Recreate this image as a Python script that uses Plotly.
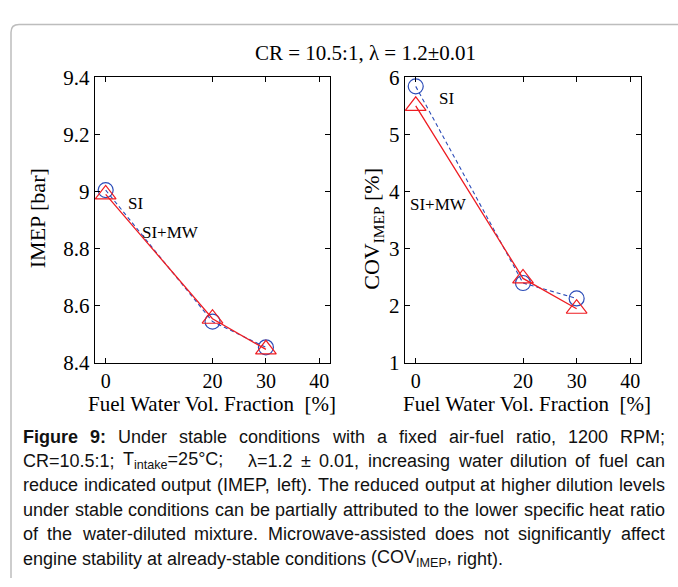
import plotly.graph_objects as go

# ---------------- data ----------------
water_frac = [0, 20, 30]
imep_si = [9.005, 8.545, 8.455]
imep_si_mw = [8.99, 8.555, 8.448]
cov_si = [5.84, 2.40, 2.13]
cov_si_mw = [5.50, 2.48, 1.95]

x_ticks = [0, 20, 30, 40]
imep_ticks = [8.4, 8.6, 8.8, 9.0, 9.2, 9.4]
imep_tick_text = ["8.4", "8.6", "8.8", "9", "9.2", "9.4"]
cov_ticks = [1, 2, 3, 4, 5, 6]

title_text = "CR = 10.5:1, λ = 1.2±0.01"
x_title = "Fuel Water Vol. Fraction\u00a0\u00a0[%]"
left_y_title = "IMEP [bar]"
right_y_title = "COV<sub>IMEP</sub> [%]"

caption_lines = [
    "<b>Figure</b> <b>9:</b> Under stable conditions with a fixed air-fuel ratio, 1200 RPM;",
    "CR=10.5:1; T<sub>intake</sub>=25°C;   λ=1.2 ± 0.01, increasing water dilution of fuel can",
    "reduce indicated output (IMEP, left). The reduced output at higher dilution levels",
    "under stable conditions can be partially attributed to the lower specific heat ratio",
    "of the water-diluted mixture. Microwave-assisted does not significantly affect",
    "engine stability at already-stable conditions (COV<sub>IMEP</sub>, right).",
]
caption_justify = [True, True, True, True, True, False]

W, H = 678, 587
BLUE = "#2b4cb8"
RED = "#ee1d23"
SERIF = "Liberation Serif"
SANS = "Liberation Sans"
CAP_SIZE = 18


def px(x):
    return x / W


def py(y):
    return 1 - y / H


# Arial / Liberation Sans advance widths (1/1000 em) for justification layout
REG = {' ': 278, '(': 333, ')': 333, ',': 278, '-': 333, '.': 278, ':': 278, ';': 278, '=': 584,
       '±': 584, '°': 400, 'λ': 500, '0': 556, '1': 556, '2': 556, '3': 556, '4': 556, '5': 556,
       '6': 556, '7': 556, '8': 556, '9': 556,
       'A': 667, 'B': 667, 'C': 722, 'D': 722, 'E': 667, 'F': 611, 'G': 778, 'H': 722, 'I': 278,
       'J': 500, 'K': 667, 'L': 556, 'M': 833, 'N': 722, 'O': 778, 'P': 667, 'Q': 778, 'R': 722,
       'S': 667, 'T': 611, 'U': 722, 'V': 667, 'W': 944, 'X': 667, 'Y': 667, 'Z': 611,
       'a': 556, 'b': 556, 'c': 500, 'd': 556, 'e': 556, 'f': 278, 'g': 556, 'h': 556, 'i': 222,
       'j': 222, 'k': 500, 'l': 222, 'm': 833, 'n': 556, 'o': 556, 'p': 556, 'q': 556, 'r': 333,
       's': 500, 't': 278, 'u': 556, 'v': 500, 'w': 722, 'x': 500, 'y': 500, 'z': 500}
BOLD = {'F': 611, 'i': 278, 'g': 611, 'u': 611, 'r': 389, 'e': 556, '9': 556, ':': 333}


def text_width(word, size):
    total = 0.0
    i = 0
    scale = 1.0
    table = REG
    while i < len(word):
        if word.startswith('<sub>', i):
            scale = 0.7; i += 5; continue
        if word.startswith('</sub>', i):
            scale = 1.0; i += 6; continue
        if word.startswith('<b>', i):
            table = BOLD; i += 3; continue
        if word.startswith('</b>', i):
            table = REG; i += 4; continue
        ch = word[i]
        total += table.get(ch, REG.get(ch, 556)) * scale
        i += 1
    return total * size / 1000.0


fig = go.Figure()

si_line = dict(color=BLUE, width=1.1, dash="4px,3px")
mw_line = dict(color=RED, width=1.3)
si_marker = dict(symbol="circle-open", size=15, color=BLUE, line=dict(width=1.2))
mw_marker = dict(symbol="triangle-up-open", size=18, color=RED, line=dict(width=1.2))

# left panel
fig.add_trace(go.Scatter(x=water_frac, y=imep_si, mode="lines+markers", line=si_line, marker=si_marker,
                         xaxis="x", yaxis="y", showlegend=False))
fig.add_trace(go.Scatter(x=water_frac, y=imep_si_mw, mode="lines+markers", line=mw_line, marker=mw_marker,
                         xaxis="x", yaxis="y", showlegend=False))
# right panel
fig.add_trace(go.Scatter(x=water_frac, y=cov_si, mode="lines+markers", line=si_line, marker=si_marker,
                         xaxis="x2", yaxis="y2", showlegend=False))
fig.add_trace(go.Scatter(x=water_frac, y=cov_si_mw, mode="lines+markers", line=mw_line, marker=mw_marker,
                         xaxis="x2", yaxis="y2", showlegend=False))

axis_common = dict(showline=True, linecolor="black", linewidth=1.4, mirror="ticks",
                   ticks="inside", ticklen=5, tickwidth=1, tickcolor="black",
                   showgrid=False, zeroline=False)
y_font = dict(family=SERIF, size=21, color="black")
x_font = dict(family=SERIF, size=20, color="black")

fig.update_layout(
    width=W, height=H, margin=dict(l=0, r=0, t=0, b=0), autosize=False,
    paper_bgcolor="white", plot_bgcolor="white",
    xaxis=dict(domain=[px(95), px(330)], range=[-2, 42], tickvals=x_ticks, anchor="y",
               tickfont=x_font, **axis_common),
    yaxis=dict(domain=[py(366), py(68)], range=[8.4, 9.4], tickvals=imep_ticks,
               ticktext=imep_tick_text, anchor="x", tickfont=y_font, **axis_common),
    xaxis2=dict(domain=[px(405), px(641)], range=[-2, 42], tickvals=x_ticks, anchor="y2",
                tickfont=x_font, **axis_common),
    yaxis2=dict(domain=[py(366), py(68)], range=[1, 6], tickvals=cov_ticks, anchor="x2",
                tickfont=y_font, **axis_common),
)

ann = []


def add_text(text, x, y, size, family=SERIF, xanchor="center", yanchor="middle", angle=0,
             xref="paper", yref="paper", color="black"):
    ann.append(dict(text=text, x=x, y=y, xref=xref, yref=yref, xanchor=xanchor, yanchor=yanchor,
                    textangle=angle, showarrow=False, borderpad=0,
                    font=dict(family=family, size=size, color=color)))


add_text(title_text, px(366), py(43), 21)
add_text(x_title, px(212), py(409), 21)
add_text(x_title, px(527), py(409), 21)
add_text(left_y_title, px(37), py(215), 22, angle=-90)
add_text(right_y_title, px(373), py(226), 22, angle=-90)
# in-plot labels
add_text("SI", 4.0, 8.958, 17, xanchor="left", xref="x", yref="y")
add_text("SI+MW", 6.7, 8.857, 17, xanchor="left", xref="x", yref="y")
add_text("SI", 4.2, 5.62, 17, xanchor="left", xref="x2", yref="y2")
add_text("SI+MW", -1.3, 3.77, 17, xanchor="left", xref="x2", yref="y2")

# caption, laid out word by word (justified)
cap_left, cap_right = 22, 664
cap_y = [443, 468, 493, 519, 544, 570]
for line, yy, just in zip(caption_lines, cap_y, caption_justify):
    words = line.split(" ")
    widths = [text_width(w, CAP_SIZE) for w in words]
    n_gaps = len(words) - 1
    if just:
        gap = (cap_right - cap_left - sum(widths)) / n_gaps
    else:
        gap = REG[' '] * CAP_SIZE / 1000.0
    xx = cap_left
    for w, wd in zip(words, widths):
        if w:
            add_text(w, px(xx), py(yy), CAP_SIZE, family=SANS, xanchor="left", color="#111111")
        xx += wd + gap

fig.update_layout(annotations=ann)

# card border with rounded top-left corner
fig.add_shape(type="path", xref="paper", yref="paper",
              path=f"M {px(11)},{py(590)} L {px(11)},{py(21)} Q {px(11)},{py(13)} {px(19)},{py(13)} L {px(680)},{py(13)}",
              line=dict(color="#bdbdbd", width=1.5))

fig.write_html("out.html", config={"responsive": False},
               post_script="document.body.style.margin='0';")
